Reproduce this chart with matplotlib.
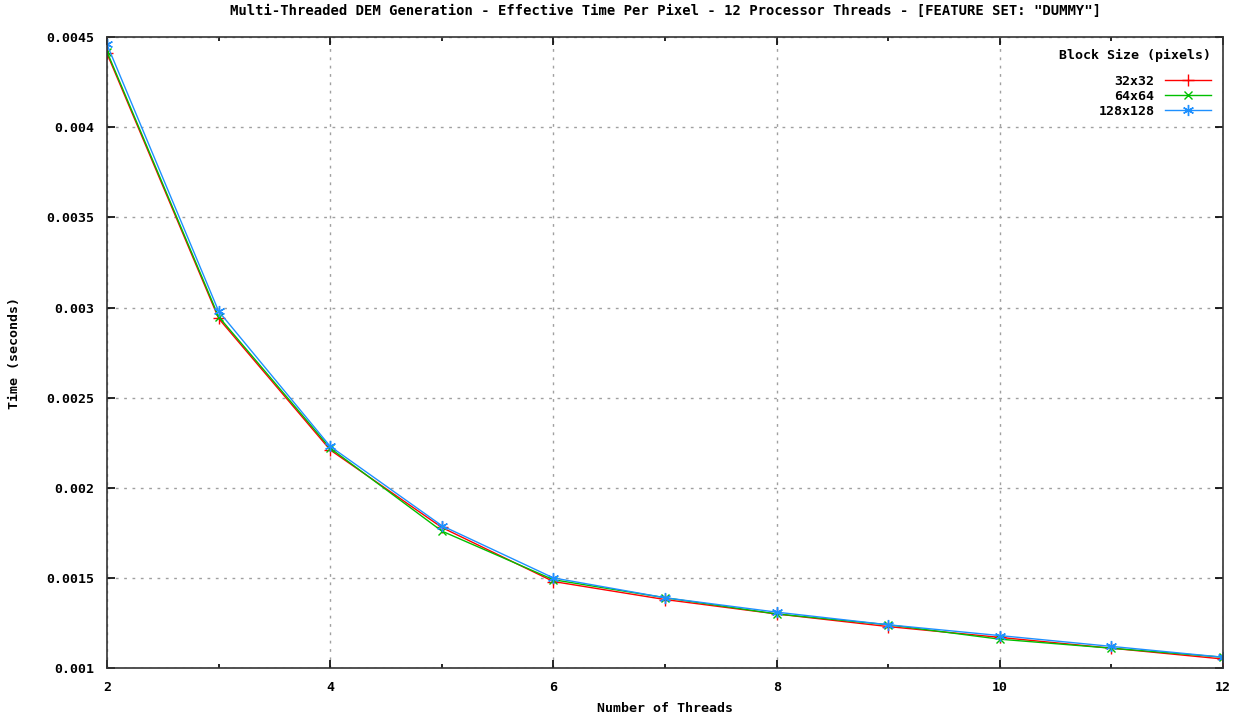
import numpy as np
import matplotlib
matplotlib.use('Agg')
import matplotlib.pyplot as plt
from matplotlib.ticker import MultipleLocator, FuncFormatter

# values
threads = [2, 3, 4, 5, 6, 7, 8, 9, 10, 11, 12]
t_32 = [0.00441, 0.00294, 0.00221, 0.00178, 0.00148, 0.00138, 0.00130, 0.00123, 0.00117, 0.00111, 0.00105]
t_64 = [0.00442, 0.00295, 0.00222, 0.00176, 0.00149, 0.00139, 0.00130, 0.00124, 0.00116, 0.00111, 0.00106]
t_128 = [0.00446, 0.00298, 0.00223, 0.00179, 0.00150, 0.00139, 0.00131, 0.00124, 0.00118, 0.00112, 0.00106]
labels = ['32x32', '64x64', '128x128']

plt.rcParams['font.family'] = 'DejaVu Sans Mono'
plt.rcParams['font.weight'] = 'bold'
plt.rcParams['font.size'] = 9.5

fig = plt.figure(figsize=(12.47, 7.16), dpi=100)
ax = fig.add_axes([0.0858, 0.067, 0.895, 0.881])

asterisk = (6, 2, 0)
ax.plot(threads, t_32, color='#ff0000', marker='+', ms=8, lw=1, label=labels[0])
ax.plot(threads, t_64, color='#00c000', marker='x', ms=6, lw=1, label=labels[1])
ax.plot(threads, t_128, color='#1e90ff', marker=asterisk, ms=8, lw=1, label=labels[2])

ax.set_xlim(2, 12)
ax.set_ylim(0.001, 0.0045)
ax.xaxis.set_major_locator(MultipleLocator(2))
ax.xaxis.set_minor_locator(MultipleLocator(1))
ax.yaxis.set_major_locator(MultipleLocator(0.0005))
ax.yaxis.set_major_formatter(FuncFormatter(lambda v, p: f'{v:.4f}'.rstrip('0')))

ax.tick_params(which='both', direction='in', top=True, right=True, width=1.2)
ax.tick_params(which='major', length=6, pad=9, labelsize=9.5)
ax.tick_params(which='minor', length=3)
for s in ax.spines.values():
    s.set_linewidth(1.2)
    s.set_color('#333333')

ax.grid(True, which='major', color='#a0a0a0', linestyle=(0, (2, 4)), lw=1)

ax.set_title('Multi-Threaded DEM Generation - Effective Time Per Pixel - 12 Processor Threads - [FEATURE SET: "DUMMY"]',
             fontsize=10, fontweight='bold', pad=16)
ax.set_xlabel('Number of Threads', fontsize=9.5, fontweight='bold', labelpad=6)
ax.set_ylabel('Time (seconds)', fontsize=9.5, fontweight='bold', labelpad=18)

leg = ax.legend(title='Block Size (pixels)', loc='upper right', frameon=False,
                markerfirst=False, fontsize=9.5, title_fontsize=9.5,
                handlelength=3.5, borderaxespad=0.5, labelspacing=0.15)
leg._legend_box.align = 'right'
leg._legend_box.sep = 9
plt.setp(leg.get_title(), fontweight='bold')

fig.savefig('out.png', dpi=100)
